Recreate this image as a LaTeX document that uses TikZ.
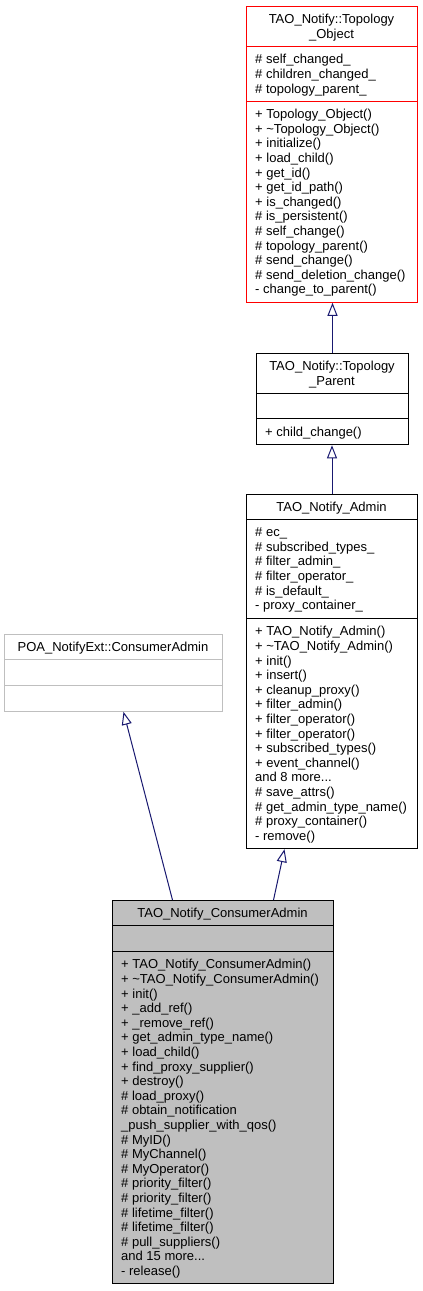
\documentclass[tikz,border=0pt]{standalone}
\usepackage{fontspec}
\setmainfont{Liberation Sans}
\usetikzlibrary{arrows.meta}
\usetikzlibrary{positioning}
\usepackage{xcolor}

\definecolor{edgeblue}{RGB}{25,25,112}
\definecolor{boxgray}{RGB}{191,191,191}
\newcommand{\umlfont}{\fontsize{13}{14.6}\selectfont}

\tikzset{
	classbox/.style={draw, line width=1pt, inner sep=0pt, anchor=north west},
	classname/.style={anchor=north, align=center, inner sep=0pt, font=\umlfont},
	members/.style={anchor=north west, align=left, inner sep=0pt, font=\umlfont},
	inherit/.style={draw=edgeblue, line width=1pt, -{Triangle[open, length=13pt, width=10pt]}}
}

\begin{document}
\begin{tikzpicture}[x=1pt, y=-1pt]

			\fill[white] (0,0) rectangle (423,1291);
			\useasboundingbox (0,0) rectangle (423,1291);

			\begin{scope}
				\node[classbox, draw=red, minimum width=171pt, minimum height=295.8pt] (topoObj) at (246,6) {};
				\draw[red, line width=1pt] (246,46.2) -- (417,46.2);
				\draw[red, line width=1pt] (246,101) -- (417,101);
				\node[classname] (topoObjName) at (331.5,14) {TAO\_Notify::Topology\\\_Object};
				\node[members] (topoObjAttr) at (255,54.2) {\# self\_changed\_\\\# children\_changed\_\\\# topology\_parent\_};
				\node[members] (topoObjOps) at (255,109) {+ Topology\_Object()\\+ \textasciitilde Topology\_Object()\\+ initialize()\\+ load\_child()\\+ get\_id()\\+ get\_id\_path()\\+ is\_changed()\\\# is\_persistent()\\\# self\_change()\\\# topology\_parent()\\\# send\_change()\\\# send\_deletion\_change()\\- change\_to\_parent()};
			\end{scope}

			\begin{scope}
				\node[classbox, minimum width=152pt, minimum height=91.3pt] (topoParent) at (256,353) {};
				\draw[line width=1pt] (256,393.2) -- (408,393.2);
				\draw[line width=1pt] (256,418.7) -- (408,418.7);
				\node[classname] (topoParentName) at (332,361) {TAO\_Notify::Topology\\\_Parent};
				\node[members] (topoParentOps) at (265,426.7) {+ child\_change()};
			\end{scope}

			\begin{scope}
				\node[classbox, minimum width=171pt, minimum height=354.2pt] (notifyAdmin) at (246,494) {};
				\draw[line width=1pt] (246,519.6) -- (417,519.6);
				\draw[line width=1pt] (246,618.2) -- (417,618.2);
				\node[classname] (notifyAdminName) at (331.5,502) {TAO\_Notify\_Admin};
				\node[members] (notifyAdminAttr) at (255,527.6) {\# ec\_\\\# subscribed\_types\_\\\# filter\_admin\_\\\# filter\_operator\_\\\# is\_default\_\\- proxy\_container\_};
				\node[members] (notifyAdminOps) at (255,626.2) {+ TAO\_Notify\_Admin()\\+ \textasciitilde TAO\_Notify\_Admin()\\+ init()\\+ insert()\\+ cleanup\_proxy()\\+ filter\_admin()\\+ filter\_operator()\\+ filter\_operator()\\+ subscribed\_types()\\+ event\_channel()\\and 8 more...\\\# save\_attrs()\\\# get\_admin\_type\_name()\\\# proxy\_container()\\- remove()};
			\end{scope}

			\begin{scope}
				\node[classbox, draw=boxgray, minimum width=218pt, minimum height=76.8pt] (poaAdmin) at (4,634) {};
				\draw[boxgray, line width=1pt] (4,659.6) -- (222,659.6);
				\draw[boxgray, line width=1pt] (4,685.2) -- (222,685.2);
				\node[classname] (poaAdminName) at (113,642) {POA\_NotifyExt::ConsumerAdmin};
			\end{scope}

			\begin{scope}
				\node[classbox, fill=boxgray, minimum width=221pt, minimum height=383.4pt] (consumerAdmin) at (112,900) {};
				\draw[line width=1pt] (112,925.6) -- (333,925.6);
				\draw[line width=1pt] (112,951.2) -- (333,951.2);
				\node[classname] (consumerAdminName) at (222.5,908) {TAO\_Notify\_ConsumerAdmin};
				\node[members] (consumerAdminOps) at (121,959.2) {+ TAO\_Notify\_ConsumerAdmin()\\+ \textasciitilde TAO\_Notify\_ConsumerAdmin()\\+ init()\\+ \_add\_ref()\\+ \_remove\_ref()\\+ get\_admin\_type\_name()\\+ load\_child()\\+ find\_proxy\_supplier()\\+ destroy()\\\# load\_proxy()\\\# obtain\_notification\\\_push\_supplier\_with\_qos()\\\# MyID()\\\# MyChannel()\\\# MyOperator()\\\# priority\_filter()\\\# priority\_filter()\\\# lifetime\_filter()\\\# lifetime\_filter()\\\# pull\_suppliers()\\and 15 more...\\- release()};
			\end{scope}

			\draw[inherit] (topoParent.north) -- (topoParent.north |- topoObj.south);
			\draw[inherit] (notifyAdmin.north) -- (notifyAdmin.north |- topoParent.south);
			\draw[inherit] ([xshift=50.5pt]consumerAdmin.north) -- ([xshift=-47.5pt]notifyAdmin.south);
			\draw[inherit] ([xshift=-50.5pt]consumerAdmin.north) -- ([xshift=10pt]poaAdmin.south);
		\end{tikzpicture}
\end{document}
